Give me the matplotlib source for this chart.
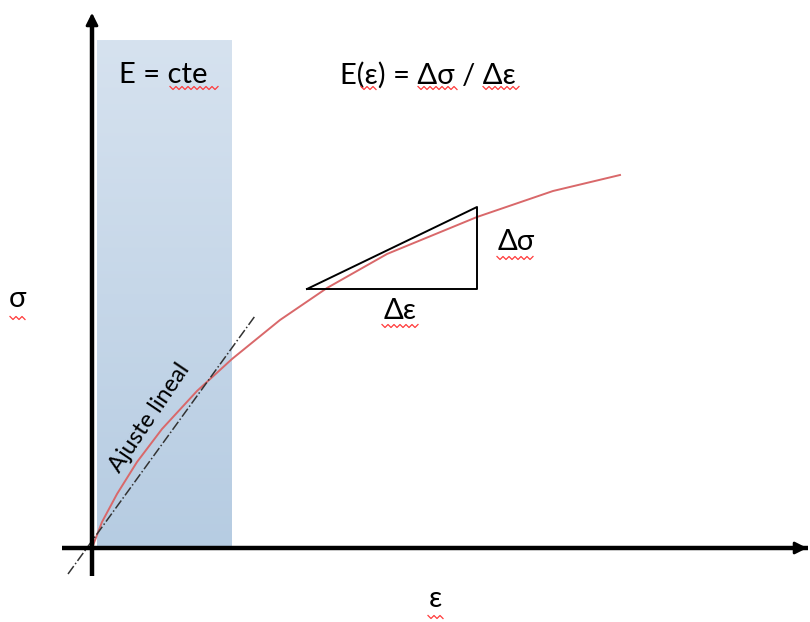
import numpy as np
import matplotlib.pyplot as plt
from matplotlib.colors import LinearSegmentedColormap

# curva tension-deformacion (px relativos al origen)
curve_x = [0, 10, 25, 45, 70, 105, 140, 188, 235, 295, 385, 461, 528]
curve_y = [0, 26, 54, 86, 119, 157, 189, 228, 260, 294, 331, 357, 373]

# ajuste lineal (recta tangente en el origen)
fit_x = [-24, 163]
fit_y = [-26, 232]

# triangulo de la pendiente
tri_x = [215, 385, 385, 215]
tri_y = [259, 259, 341, 259]

# zona de modulo constante
zone_x = [5, 140]
zone_top = 508

plt.rcParams['font.family'] = ['Lato', 'DejaVu Sans']

fig = plt.figure(figsize=(8.1, 6.22), dpi=100)
ax = fig.add_axes([0, 0, 1, 1])
ax.set_xlim(-92, 718)
ax.set_ylim(-74, 548)
ax.axis('off')

# zona sombreada con degradado
grad = np.linspace(0, 1, 256).reshape(-1, 1)
cmap = LinearSegmentedColormap.from_list('z', ['#b6cce2', '#d6e2ef'])
ax.imshow(grad, cmap=cmap, extent=[zone_x[0], zone_x[1], 0, zone_top],
          origin='lower', aspect='auto', zorder=0)

# ejes
ax.plot([-30, 716], [0, 0], color='black', lw=3.2, zorder=3, solid_capstyle='butt')
ax.plot([0, 0], [-28, 530], color='black', lw=3.2, zorder=3, solid_capstyle='butt')
ax.annotate('', xy=(0, 538), xytext=(0, 515),
            arrowprops=dict(arrowstyle='-|>', color='black', lw=2, mutation_scale=18), zorder=4)
ax.annotate('', xy=(718, 0), xytext=(695, 0),
            arrowprops=dict(arrowstyle='-|>', color='black', lw=2, mutation_scale=18), zorder=4)

# curva y ajuste
ax.plot(curve_x, curve_y, color='#d9686a', lw=1.4, zorder=2)
ax.plot(fit_x, fit_y, color='#333333', lw=1.1, ls='-.', zorder=2)

# triangulo
ax.plot(tri_x, tri_y, color='black', lw=1.4, zorder=2)

# textos
fs = 21
ax.text(71, 473, 'E = cte', fontsize=fs, ha='center', va='center')
ax.text(336, 473, 'E(ε) = Δσ / Δε', fontsize=fs, ha='center', va='center')
ax.text(424, 306, 'Δσ', fontsize=fs, ha='center', va='center')
ax.text(308, 237, 'Δε', fontsize=fs, ha='center', va='center')
ax.text(-74, 249, 'σ', fontsize=fs, ha='center', va='center')
ax.text(343, -51, 'ε', fontsize=fs, ha='center', va='center')
ax.text(58, 130, 'Ajuste lineal', fontsize=17, ha='center', va='center', rotation=56)

# subrayados de corrector
def squiggle(x0, x1, y):
    xs = np.arange(x0, x1 + 0.1, 3)
    ys = y + np.where(np.arange(len(xs)) % 2 == 0, 1.5, -1.5)
    ax.plot(xs, ys, color='#ff3b3b', lw=0.9, zorder=5)

for x0, x1, y in [(78, 126, 460), (269, 286, 460), (326, 365, 460), (391, 428, 460),
                  (405, 443, 290), (290, 328, 222), (-82, -65, 230), (336, 353, -69)]:
    squiggle(x0, x1, y)

fig.savefig('out.png', dpi=100)
